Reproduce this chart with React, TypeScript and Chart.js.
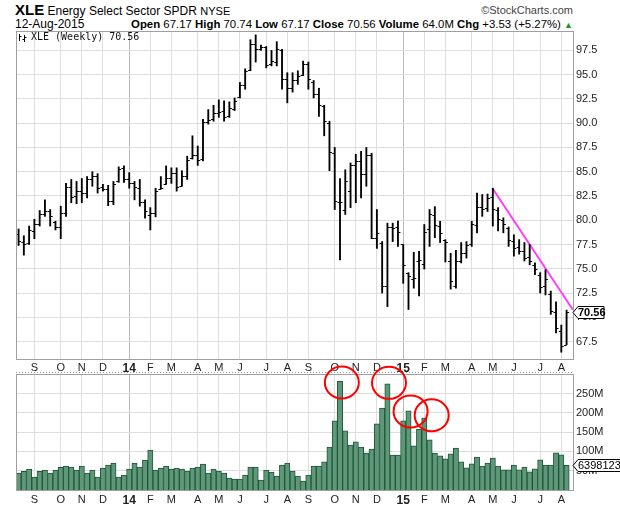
import React, { useEffect, useRef } from "react";
import { Chart, registerables } from "chart.js";
Chart.register(...registerables);

// ---- data (weekly bars, 12-Aug-2013 .. 10-Aug-2015) ----
const opens = [
  78.6, 77.8, 77.7, 78.9, 79.6, 80.6, 80.9, 79.8, 79.3, 80.7,
  83.4, 82.5, 83.0, 82.8, 84.3, 84.6, 83.4, 83.2, 82.0, 84.0,
  85.4, 84.2, 83.8, 83.3, 81.9, 80.5, 80.7, 83.2, 83.7, 84.4,
  84.9, 83.5, 84.6, 86.4, 86.7, 86.3, 90.1, 90.4, 91.0, 91.3,
  90.7, 91.5, 92.7, 93.9, 95.5, 98.2, 97.6, 97.8, 96.1, 96.3,
  97.5, 94.6, 93.6, 94.5, 95.0, 96.1, 94.2, 93.0, 91.8, 90.0,
  86.9, 81.9, 81.1, 83.0, 85.7, 86.1, 84.8, 86.7, 78.2, 77.7,
  73.2, 79.3, 79.3, 77.5, 74.6, 73.9, 75.8, 75.5, 79.1, 80.5,
  79.4, 78.0, 75.8, 73.2, 75.8, 76.6, 77.5, 79.5, 81.4, 81.3,
  82.4, 81.1, 80.0, 79.2, 77.9, 77.2, 76.8, 76.2, 75.4, 74.4,
  73.2, 72.4, 70.5, 68.6, 67.17,
];
const highs = [
  79.1, 78.4, 79.4, 80.1, 81.0, 82.1, 81.1, 79.9, 81.45, 83.8,
  84.2, 84.0, 84.3, 84.5, 85.0, 84.8, 83.7, 83.6, 84.0, 85.5,
  85.6, 84.9, 84.0, 84.2, 82.1, 81.3, 83.3, 84.5, 85.6, 85.4,
  85.4, 85.1, 86.6, 88.7, 87.65, 90.4, 91.4, 91.85, 92.4, 92.3,
  92.2, 92.6, 94.2, 95.6, 98.6, 99.1, 98.05, 97.9, 97.5, 98.4,
  97.6, 95.2, 95.2, 95.4, 96.4, 96.3, 94.4, 93.6, 91.85, 90.2,
  87.5, 84.3, 85.2, 85.9, 86.8, 87.1, 87.5, 86.9, 81.1, 77.8,
  79.7, 79.7, 79.9, 77.5, 74.6, 76.7, 76.8, 79.56, 81.1, 81.4,
  79.9, 78.0, 76.6, 76.9, 77.7, 77.8, 79.9, 82.8, 82.65, 82.7,
  83.3, 81.3, 80.25, 79.3, 78.5, 78.0, 77.7, 77.5, 75.6, 74.6,
  74.9, 72.7, 71.6, 69.2, 70.74,
];
const lows = [
  77.4, 76.4, 77.5, 78.1, 79.4, 80.4, 79.4, 79.0, 78.1, 80.4,
  81.8, 81.7, 81.8, 82.3, 83.5, 82.8, 83.0, 81.5, 81.6, 83.9,
  83.9, 83.3, 82.1, 81.45, 80.2, 79.0, 80.35, 83.2, 83.7, 83.8,
  83.0, 83.5, 84.2, 86.3, 85.65, 86.1, 89.9, 90.2, 90.6, 90.2,
  90.6, 91.3, 92.6, 93.5, 95.4, 96.3, 97.5, 95.7, 95.9, 95.9,
  93.5, 92.1, 93.2, 94.0, 94.9, 93.5, 92.6, 90.7, 88.7, 85.1,
  81.1, 75.9, 80.6, 81.3, 81.8, 82.3, 83.5, 78.1, 77.1, 72.5,
  71.1, 77.8, 77.3, 73.5, 70.8, 73.0, 72.2, 74.97, 77.3, 78.2,
  77.7, 75.7, 72.9, 73.0, 75.6, 76.1, 77.3, 78.7, 80.4, 80.9,
  79.4, 78.9, 78.7, 77.3, 76.3, 76.5, 75.8, 75.4, 74.4, 72.5,
  72.3, 70.3, 68.4, 66.4, 67.17,
];
const closes = [
  77.9, 77.6, 79.0, 79.6, 80.6, 80.9, 80.4, 79.3, 80.7, 83.4,
  82.4, 83.0, 82.8, 84.2, 84.6, 83.3, 83.2, 82.0, 83.7, 85.3,
  84.2, 83.8, 83.4, 81.9, 81.0, 80.7, 83.0, 83.3, 84.4, 84.9,
  83.4, 84.6, 86.2, 86.7, 86.2, 90.1, 90.3, 91.0, 91.2, 90.6,
  91.6, 92.3, 93.9, 95.4, 98.2, 97.6, 97.8, 96.0, 96.4, 97.6,
  94.6, 93.6, 94.5, 94.9, 96.1, 94.6, 93.0, 91.9, 90.2, 87.0,
  82.0, 81.9, 84.0, 85.7, 86.1, 84.8, 86.7, 78.2, 78.7, 73.2,
  79.3, 79.2, 78.8, 75.4, 74.3, 74.0, 75.9, 78.8, 80.6, 79.5,
  78.7, 77.8, 73.7, 75.8, 76.6, 77.4, 79.6, 81.4, 81.2, 82.3,
  81.2, 80.1, 79.6, 78.0, 77.1, 76.8, 76.1, 75.8, 75.0, 73.1,
  73.9, 70.6, 68.9, 67.03, 70.56,
];
// volume in millions of shares
const volumes = [
  43.9, 48.3, 54.3, 33.6, 48.3, 51.7, 43.9, 51.7, 58.6, 62.1,
  59.5, 51.7, 62.1, 43.9, 51.7, 33.6, 56.9, 64.7, 69.9, 33.6,
  38.8, 54.3, 69.9, 59.5, 77.6, 103.5, 51.7, 56.9, 62.1, 54.3,
  56.9, 54.3, 49.2, 56.9, 59.5, 67.3, 43.9, 54.3, 49.2, 43.9,
  31.0, 28.4, 28.4, 38.8, 59.5, 59.5, 25.8, 51.7, 46.6, 36.2,
  64.7, 69.9, 49.2, 36.2, 23.3, 38.8, 62.1, 62.1, 73.3, 111.3,
  179.5, 282.2, 153.6, 116.5, 125.1, 111.3, 95.8, 106.1, 171.7, 212.3,
  275.3, 90.6, 90.6, 179.5, 205.4, 114.8, 157.9, 186.4, 130.3, 95.8,
  88.9, 81.1, 94.0, 108.7, 73.3, 57.8, 68.2, 85.4, 62.1, 69.9,
  82.8, 62.1, 52.6, 52.6, 64.7, 52.6, 59.5, 47.4, 55.2, 78.5,
  64.7, 64.7, 96.6, 91.5, 64.0,
];
const lastVolumeShares = 63981236;
const monthTickIdx = [3, 8, 12, 16, 21, 25, 29, 34, 38, 42, 47, 51, 55, 60, 64, 68, 73, 77, 81, 86, 90, 94, 99, 103];
const monthTickLabels = ["S", "O", "N", "D", "14", "F", "M", "A", "M", "J", "J", "A", "S", "O", "N", "D", "15", "F", "M", "A", "M", "J", "J", "A"];
const yearLabels = ["14", "15"];
const priceTicks = [67.5, 70, 72.5, 75, 77.5, 80, 82.5, 85, 87.5, 90, 92.5, 95, 97.5];
const volumeTicks = [50, 100, 150, 200, 250];
const trendLineX = [90, 105.2];
const trendLineY = [83.24, 70.77];
const circleX = [61.35, 70.3, 74.4, 78.4];
const circleY = [279, 278, 204, 194];

const FONT = '"Liberation Sans", Arial, sans-serif';
const X_MIN = -0.49;
const X_MAX = 105.22;
const GRID = "#dedede";
const YEAR_GRID = "#b9b9b9";

function labelFor(v: number) {
  const k = monthTickIdx.indexOf(v);
  return k >= 0 ? monthTickLabels[k] : "";
}

function xScaleConfig(padding: number, height: number) {
  return {
    type: "linear",
    min: X_MIN,
    max: X_MAX,
    offset: false,
    afterBuildTicks: (s: any) => {
      s.ticks = monthTickIdx.map((v) => ({ value: v }));
    },
    afterFit: (s: any) => {
      s.height = height;
    },
    ticks: {
      autoSkip: false,
      maxRotation: 0,
      padding,
      color: "#222",
      callback: (v: number) => labelFor(v),
      font: (ctx: any) => {
        const yr = ctx.tick && yearLabels.includes(labelFor(ctx.tick.value));
        return { family: FONT, size: yr ? 12 : 11, weight: yr ? "bold" : "normal" };
      },
    },
    grid: {
      offset: false,
      drawTicks: false,
      color: (ctx: any) =>
        ctx.tick && yearLabels.includes(labelFor(ctx.tick.value)) ? YEAR_GRID : GRID,
    },
    border: { display: false },
  };
}

const frame = {
  id: "frame",
  afterDraw(chart: any) {
    const { ctx, chartArea: a } = chart;
    ctx.save();
    ctx.strokeStyle = "#a0a0a0";
    ctx.lineWidth = 1;
    ctx.strokeRect(Math.round(a.left) + 0.5, Math.round(a.top) + 0.5, Math.round(a.right - a.left), Math.round(a.bottom - a.top));
    ctx.restore();
  },
};

function drawValueBox(ctx: any, x0: number, yc: number, text: string, bold: boolean, w: number) {
  ctx.save();
  const y = Math.round(yc) + 0.5;
  ctx.beginPath();
  ctx.moveTo(x0, y);
  ctx.lineTo(x0 + 5, y - 6);
  ctx.lineTo(x0 + w, y - 6);
  ctx.lineTo(x0 + w, y + 6);
  ctx.lineTo(x0 + 5, y + 6);
  ctx.closePath();
  ctx.fillStyle = "#fff";
  ctx.fill();
  ctx.strokeStyle = "#000";
  ctx.lineWidth = 1;
  ctx.stroke();
  ctx.fillStyle = "#000";
  ctx.font = `${bold ? "bold " : ""}11px ${FONT}`;
  ctx.textBaseline = "middle";
  ctx.textAlign = "left";
  ctx.fillText(text, x0 + 5, y + 0.5);
  ctx.restore();
}

const ohlcTicks = {
  id: "ohlcTicks",
  afterDatasetsDraw(chart: any) {
    const { ctx } = chart;
    const xs = chart.scales.x;
    const ys = chart.scales.y;
    ctx.save();
    ctx.strokeStyle = "#000";
    ctx.lineWidth = 1;
    ctx.beginPath();
    for (let i = 0; i < opens.length; i++) {
      const x = xs.getPixelForValue(i);
      const yo = Math.round(ys.getPixelForValue(opens[i])) + 0.5;
      const yc = Math.round(ys.getPixelForValue(closes[i])) + 0.5;
      ctx.moveTo(x - 2.5, yo);
      ctx.lineTo(x, yo);
      ctx.moveTo(x, yc);
      ctx.lineTo(x + 2.5, yc);
    }
    ctx.stroke();
    ctx.restore();
  },
  afterDraw(chart: any) {
    const { ctx, chartArea: a } = chart;
    const ys = chart.scales.y;
    const last = closes.length - 1;
    // legend
    ctx.save();
    ctx.strokeStyle = "#000";
    ctx.lineWidth = 1;
    ctx.beginPath();
    const lx = Math.round(a.left) + 3;
    const ly = Math.round(a.top) + 2;
    ctx.moveTo(lx + 0.5, ly + 1); ctx.lineTo(lx + 0.5, ly + 8);
    ctx.moveTo(lx + 0.5, ly + 3.5); ctx.lineTo(lx + 2.5, ly + 3.5);
    ctx.moveTo(lx + 5.5, ly + 2); ctx.lineTo(lx + 5.5, ly + 9);
    ctx.moveTo(lx + 3.5, ly + 6.5); ctx.lineTo(lx + 5.5, ly + 6.5);
    ctx.moveTo(lx + 5.5, ly + 4.5); ctx.lineTo(lx + 7.5, ly + 4.5);
    ctx.stroke();
    ctx.fillStyle = "#111";
    ctx.font = '10px "DejaVu Sans Mono", monospace';
    ctx.textBaseline = "top";
    ctx.fillText(`XLE (Weekly) ${closes[last].toFixed(2)}`, a.left + 15, a.top + 1.5);
    ctx.restore();
    drawValueBox(ctx, a.right, ys.getPixelForValue(closes[last]), closes[last].toFixed(2), true, 31);
  },
};

const volumeExtras = {
  id: "volumeExtras",
  afterDraw(chart: any) {
    const { ctx, chartArea: a } = chart;
    const xs = chart.scales.x;
    const ys = chart.scales.y;
    // dotted separator above the panel
    ctx.save();
    ctx.strokeStyle = "#999";
    ctx.setLineDash([1, 2]);
    ctx.beginPath();
    ctx.moveTo(a.left, Math.round(a.top) - 1.5);
    ctx.lineTo(a.right, Math.round(a.top) - 1.5);
    ctx.stroke();
    ctx.restore();
    drawValueBox(ctx, a.right, ys.getPixelForValue(lastVolumeShares / 1e6), String(lastVolumeShares), false, 60);
    // red annotation circles
    ctx.save();
    ctx.strokeStyle = "#ff0000";
    ctx.lineWidth = 2;
    for (let i = 0; i < circleX.length; i++) {
      ctx.beginPath();
      ctx.ellipse(xs.getPixelForValue(circleX[i]), ys.getPixelForValue(circleY[i]), 17, 16, 0, 0, Math.PI * 2);
      ctx.stroke();
    }
    ctx.restore();
  },
};

export default function App() {
  const priceRef = useRef<HTMLCanvasElement>(null);
  const volRef = useRef<HTMLCanvasElement>(null);

  useEffect(() => {
    Chart.defaults.font.family = FONT;
    const priceChart = new Chart(priceRef.current as HTMLCanvasElement, {
      type: "bar",
      data: {
        datasets: [
          {
            type: "bar",
            data: highs.map((h, i) => ({ x: i, y: [lows[i], h] })) as any,
            backgroundColor: "#000",
            barThickness: 1.2,
            grouped: false,
          } as any,
          {
            type: "line",
            data: trendLineX.map((x, i) => ({ x, y: trendLineY[i] })),
            borderColor: "#ff3cff",
            borderWidth: 2,
            pointRadius: 0,
          } as any,
        ],
      },
      options: {
        animation: false,
        responsive: false,
        devicePixelRatio: 1,
        layout: { padding: { left: 16, top: 31, right: 0, bottom: 0 } },
        plugins: { legend: { display: false }, tooltip: { enabled: false } },
        scales: {
          x: xScaleConfig(2, 21) as any,
          y: {
            position: "right",
            min: 65.7,
            max: 99.5,
            afterBuildTicks: (s: any) => {
              s.ticks = priceTicks.map((v) => ({ value: v }));
            },
            afterFit: (s: any) => {
              s.width = 47;
            },
            ticks: {
              padding: 3,
              color: "#222",
              font: { family: FONT, size: 11 },
              callback: (v: any) => Number(v).toFixed(1),
            },
            grid: { drawTicks: false, color: GRID },
            border: { display: false },
          },
        },
      },
      plugins: [frame, ohlcTicks],
    });

    const volChart = new Chart(volRef.current as HTMLCanvasElement, {
      type: "bar",
      data: {
        datasets: [
          {
            data: volumes.map((v, i) => ({ x: i, y: v })),
            backgroundColor: "#5f9878",
            borderColor: "#1f563a",
            borderWidth: 1,
            barPercentage: 1,
            categoryPercentage: 1,
          } as any,
        ],
      },
      options: {
        animation: false,
        responsive: false,
        devicePixelRatio: 1,
        layout: { padding: { left: 16, top: 14, right: 0, bottom: 0 } },
        plugins: { legend: { display: false }, tooltip: { enabled: false } },
        scales: {
          x: xScaleConfig(3, 17) as any,
          y: {
            position: "right",
            min: 0,
            max: 301,
            afterBuildTicks: (s: any) => {
              s.ticks = volumeTicks.map((v) => ({ value: v }));
            },
            afterFit: (s: any) => {
              s.width = 47;
            },
            ticks: {
              padding: 3,
              color: "#222",
              font: { family: FONT, size: 11 },
              callback: (v: any) => `${v}M`,
            },
            grid: { drawTicks: false, color: GRID },
            border: { display: false },
          },
        },
      },
      plugins: [frame, volumeExtras],
    });

    return () => {
      priceChart.destroy();
      volChart.destroy();
    };
  }, []);

  const last = closes.length - 1;
  const chg = closes[last] - closes[last - 1];
  const pct = (chg / closes[last - 1]) * 100;

  return (
    <div
      style={{
        position: "absolute",
        left: 0,
        top: 0,
        width: 620,
        height: 507,
        background: "#fff",
        fontFamily: FONT,
        color: "#000",
        overflow: "hidden",
      }}
    >
      <div style={{ position: "absolute", left: 15, top: 2, whiteSpace: "nowrap", fontSize: 12, lineHeight: "16px" }}>
        <span style={{ fontWeight: "bold", fontSize: 15 }}>XLE</span> Energy Select Sector SPDR{" "}
        <span style={{ fontSize: 11 }}>NYSE</span>
      </div>
      <div style={{ position: "absolute", right: 47, top: 3, whiteSpace: "nowrap", fontSize: 11, color: "#444", lineHeight: "14px" }}>
        ©StockCharts.com
      </div>
      <div style={{ position: "absolute", left: 15, top: 17, whiteSpace: "nowrap", fontSize: 12, lineHeight: "14px" }}>
        12-Aug-2015
      </div>
      <div style={{ position: "absolute", right: 47, top: 17, whiteSpace: "nowrap", fontSize: 11.4, lineHeight: "14px" }}>
        <b>Open</b> {opens[last].toFixed(2)} <b>High</b> {highs[last].toFixed(2)} <b>Low</b> {lows[last].toFixed(2)}{" "}
        <b>Close</b> {closes[last].toFixed(2)} <b>Volume</b> {(lastVolumeShares / 1e6).toFixed(1)}M <b>Chg</b> +{chg.toFixed(2)} (+
        {pct.toFixed(2)}%) <span style={{ color: "#2f8f2f", fontSize: 9 }}>▲</span>
      </div>
      <canvas ref={priceRef} width={620} height={380} style={{ position: "absolute", left: 0, top: 0, width: 620, height: 380 }} />
      <canvas ref={volRef} width={620} height={147} style={{ position: "absolute", left: 0, top: 360, width: 620, height: 147 }} />
    </div>
  );
}
